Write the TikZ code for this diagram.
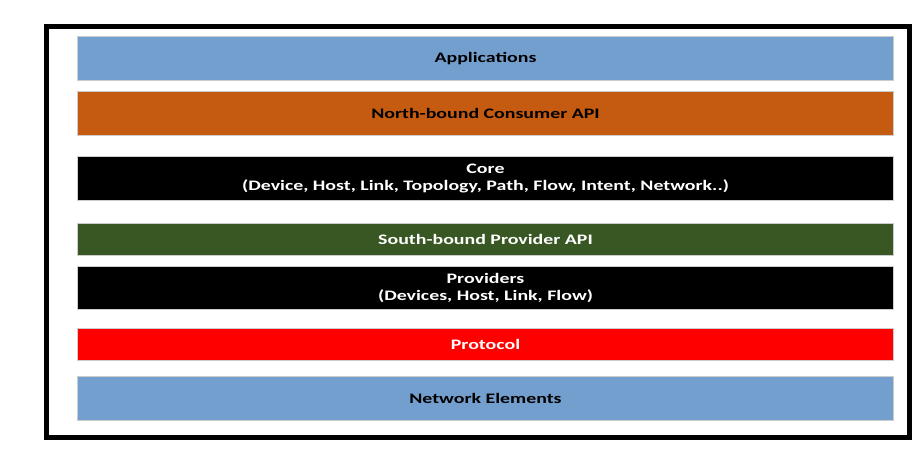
\documentclass[tikz,border=0pt]{standalone}
\usepackage{fontspec}
\setmainfont{Carlito}[FakeStretch=1.37]
\usetikzlibrary{positioning}
\definecolor{appblue}{HTML}{729FCE}
\definecolor{apiorange}{HTML}{C55A11}
\definecolor{apigreen}{HTML}{385723}
\tikzstyle{layer} = [draw=black!20, line width=0.8pt, rectangle, minimum width=816pt, text centered, align=center, inner sep=0pt, font=\fontsize{14.5}{17}\selectfont\bfseries]
\tikzstyle{frame} = [draw, line width=5pt]

\begin{document}
\begin{tikzpicture}[x=1pt, y=-1pt]
        \useasboundingbox (0,0) rectangle (922,464);
        \draw[frame] (46.5,26) rectangle (909.5,437.5);
        \node[layer, fill=appblue, minimum height=44pt] (apps) at (485.5,58.7) {Applications};
        \node[layer, fill=apiorange, minimum height=43.5pt] (nbapi) at (485.5,113.3) {North-bound Consumer API};
        \node[layer, fill=black, text=white, minimum height=44pt] (core) at (485.5,178) {Core\\(Device, Host, Link, Topology, Path, Flow, Intent, Network..)};
        \node[layer, fill=apigreen, text=white, minimum height=32pt] (sbapi) at (485.5,239) {South-bound Provider API};
        \node[layer, fill=black, text=white, minimum height=42.5pt] (providers) at (485.5,288) {Providers\\(Devices, Host, Link, Flow)};
        \node[layer, fill=red, text=white, minimum height=32pt] (protocol) at (485.5,344) {Protocol};
        \node[layer, fill=appblue, minimum height=43.5pt] (netelem) at (485.5,398.3) {Network Elements};
    \end{tikzpicture}
\end{document}
